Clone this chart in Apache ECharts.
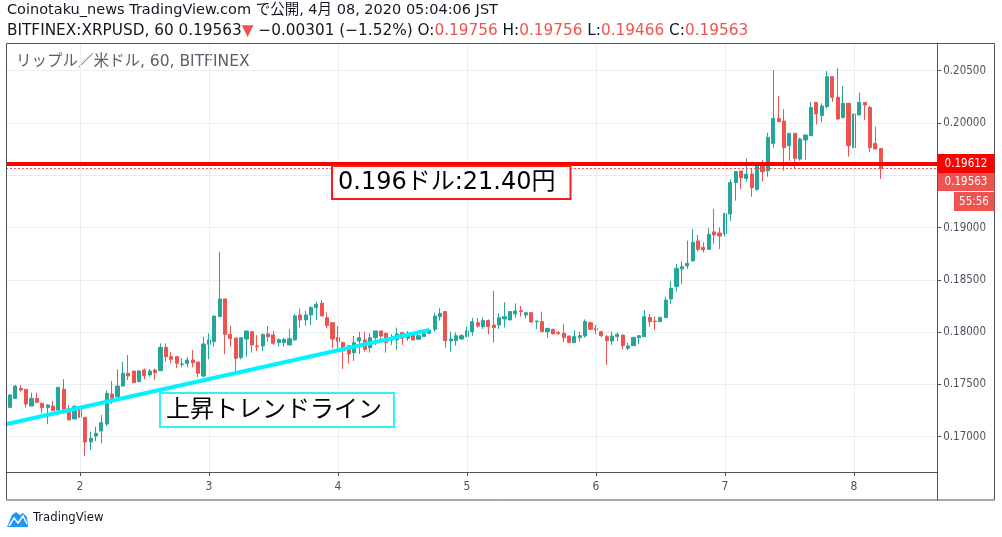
<!DOCTYPE html>
<html><head><meta charset="utf-8">
<script src="https://cdn.jsdelivr.net/npm/echarts@6/dist/echarts.min.js"></script>
<style>html,body{margin:0;padding:0;background:#fff}#c{width:1002px;height:537px}</style>
</head><body><div id="c"></div>
<script>
// Hourly candles, BITFINEX:XRPUSD, from 4/1 11:00 JST to 4/8 05:00 JST
const opens = [
.17280,.17366,.17462,.17453,.17293,.17366,.17319,.17277,.17293,.17255,
.17453,.17271,.17169,.17264,.17185,.16949,.17006,.17054,.17121,.17408,
.17382,.17484,.17606,.17628,.17526,.17637,.17590,.17637,.17631,.17854,
.17765,.17765,.17689,.17701,.17733,.17714,.17580,.17883,.17909,.18148,
.18317,.17979,.17944,.17756,.17934,.18004,.17867,.17867,.17982,.17972,
.17899,.17899,.17877,.17925,.18164,.18116,.18164,.18234,.18275,.18138,
.18090,.17950,.17902,.17870,.17803,.17915,.17925,.17851,.17947,.18011,
.17988,.17925,.17925,.17995,.17941,.17972,.17931,.17957,.17988,.18027,
.18148,.18196,.17915,.17918,.17934,.17957,.18004,.18090,.18052,.18110,
.18068,.18068,.18126,.18116,.18173,.18205,.18164,.18186,.18100,.18100,
.18004,.18027,.17995,.17988,.17963,.17899,.17947,.17963,.18090,.18036,
.18004,.17957,.17915,.17957,.17972,.17845,.17870,.17947,.17956,.18141,
.18106,.18100,.18138,.18317,.18435,.18604,.18633,.18680,.18872,.18811,
.18792,.18958,.18948,.18939,.19130,.19430,.19540,.19470,.19512,.19365,
.19598,.19544,.19805,.20044,.20019,.19783,.19901,.19655,.19837,.19878,
.20197,.20070,.20156,.20443,.20245,.20050,.20188,.19764,.20076,.20197,
.20149,.19805,.19756];
const closes = [
.17398,.17484,.17446,.17312,.17366,.17328,.17277,.17303,.17248,.17472,
.17261,.17159,.17287,.17185,.16949,.16984,.17032,.17134,.17414,.17366,
.17484,.17606,.17580,.17516,.17628,.17583,.17628,.17612,.17854,.17765,
.17740,.17701,.17695,.17733,.17708,.17606,.17886,.17925,.18154,.18317,
.17979,.17937,.17749,.17947,.18011,.17877,.17861,.17979,.17956,.17893,
.17928,.17931,.17937,.18154,.18116,.18164,.18237,.18266,.18154,.18062,
.17934,.17909,.17822,.17791,.17899,.17947,.17835,.17947,.18011,.17963,
.17899,.17931,.17982,.17941,.17988,.17925,.17966,.17988,.18020,.18154,
.18180,.17918,.17934,.17966,.17966,.18011,.18100,.18058,.18110,.18052,
.18043,.18138,.18148,.18196,.18202,.18196,.18186,.18097,.18106,.18004,
.18036,.17982,.17988,.17947,.17902,.17957,.17966,.18100,.18027,.18020,
.17966,.17918,.17963,.17979,.17870,.17867,.17950,.17966,.18148,.18100,
.18100,.18141,.18307,.18419,.18610,.18626,.18658,.18859,.18792,.18786,
.18935,.18929,.18919,.19136,.19430,.19535,.19477,.19509,.19381,.19598,
.19534,.19862,.20044,.20012,.19764,.19901,.19662,.19846,.19885,.20149,
.20086,.20162,.20443,.20245,.20038,.20188,.19783,.20086,.20197,.20172,
.19764,.19751,.19563];
const lows = [
.17271,.17360,.17430,.17277,.17293,.17319,.17223,.17121,.17248,.17213,
.17223,.17159,.17169,.17185,.16815,.16872,.16958,.16936,.17102,.17312,
.17382,.17478,.17542,.17516,.17519,.17551,.17574,.17542,.17631,.17717,
.17701,.17654,.17663,.17663,.17663,.17568,.17568,.17740,.17861,.18148,
.17788,.17861,.17622,.17740,.17765,.17803,.17819,.17819,.17909,.17877,
.17861,.17861,.17877,.17918,.18043,.18059,.18068,.18116,.18154,.18036,
.17845,.17845,.17647,.17701,.17724,.17791,.17813,.17803,.17877,.17925,
.17803,.17877,.17829,.17877,.17915,.17925,.17925,.17957,.17982,.18004,
.18110,.17851,.17813,.17870,.17925,.17950,.17966,.18043,.18030,.17979,
.17899,.18030,.18043,.18116,.18138,.18148,.18132,.18090,.18030,.18004,
.17947,.17982,.17972,.17902,.17893,.17899,.17909,.17947,.18020,.17979,
.17950,.17686,.17877,.17915,.17838,.17829,.17870,.17886,.17956,.18052,
.18020,.18100,.18138,.18269,.18387,.18460,.18604,.18680,.18770,.18760,
.18786,.18843,.18795,.18913,.19063,.19257,.19368,.19438,.19295,.19352,
.19438,.19486,.19764,.20012,.19544,.19639,.19556,.19639,.19646,.19878,
.19987,.20006,.20140,.20203,.20028,.20050,.19678,.19764,.20076,.20028,
.19719,.19751,.19466];
const highs = [
.17408,.17494,.17494,.17453,.17421,.17421,.17325,.17312,.17341,.17472,
.17551,.17303,.17303,.17287,.17185,.17048,.17095,.17207,.17440,.17532,
.17644,.17717,.17781,.17628,.17637,.17650,.17647,.17650,.17892,.17892,
.17810,.17765,.17752,.17759,.17829,.17714,.17956,.17988,.18154,.18769,
.18317,.18059,.17944,.17947,.18011,.18004,.17972,.17979,.18059,.18011,
.17941,.17947,.18030,.18173,.18227,.18202,.18243,.18291,.18307,.18189,
.18090,.18058,.17902,.17870,.17963,.18004,.18004,.17988,.18011,.18011,
.17995,.17982,.18043,.17995,.18011,.17972,.17966,.18004,.18030,.18186,
.18228,.18196,.18004,.17998,.17982,.18052,.18138,.18138,.18138,.18122,
.18393,.18180,.18285,.18202,.18275,.18250,.18186,.18186,.18106,.18196,
.18036,.18027,.18011,.18078,.17963,.18020,.18004,.18122,.18100,.18068,
.18014,.17972,.18004,.17998,.17972,.17902,.17950,.17972,.18211,.18173,
.18148,.18141,.18339,.18489,.18652,.18674,.18875,.18986,.18929,.18859,
.18993,.19178,.19002,.19136,.19461,.19541,.19540,.19662,.19566,.19614,
.19646,.19907,.20506,.20258,.20133,.19901,.19901,.19859,.19885,.20203,
.20197,.20188,.20497,.20443,.20529,.20354,.20188,.20086,.20290,.20197,
.20165,.19964,.19756];

const horizontalLevel = 0.19612;   // drawn red horizontal line
const lastPrice = 0.19563;
const countdown = '55:56';
const trendStart = ['4/1 10:00', 0.17116];  // [category, price]
const trendEnd = ['4/4 17:00', 0.18020];
const yMin = 0.16662, yMax = 0.20765;
const padBefore = 1, padAfter = 10;

const categories = [];
for (let i = 0; i < padBefore + opens.length + padAfter; i++) {
  const t = new Date(Date.UTC(2020, 3, 1, 10 + i));
  categories.push((t.getUTCMonth() + 1) + '/' + t.getUTCDate() + ' ' + String(t.getUTCHours()).padStart(2, '0') + ':00');
}
const isDayStart = (i) => categories[i].endsWith(' 00:00');
const dayStarts = categories.filter((c, i) => isDayStart(i));
const candleData = ['-'].concat(opens.map((o, i) => [o, closes[i], lows[i], highs[i]]));

const UP = '#26a69a', DOWN = '#ef5350';
const hdrFont = "'DejaVu Sans', 'Noto Sans CJK JP', sans-serif";
const txtFont = "'Liberation Sans', 'Noto Sans CJK JP', sans-serif";
const axisFont = "'DejaVu Sans Condensed', 'Liberation Sans', sans-serif";
const GRID = '#e9eef3';

const chart = echarts.init(document.getElementById('c'), null, {renderer: 'canvas'});
chart.setOption({
  animation: false,
  backgroundColor: '#ffffff',
  grid: {left: 1.925, right: 64.8, top: 43, bottom: 65},
  xAxis: {
    type: 'category', data: categories, boundaryGap: true,
    axisLine: {show: true, lineStyle: {color: '#50535e'}},
    axisTick: {show: true, alignWithLabel: true, interval: (i) => isDayStart(i), length: 4, lineStyle: {color: '#50535e'}},
    axisLabel: {interval: (i) => isDayStart(i), formatter: (v) => v.split(' ')[0].split('/')[1],
      color: '#4c525e', fontSize: 12, fontFamily: axisFont, margin: 9},
    splitLine: {show: false}
  },
  yAxis: {
    type: 'value', position: 'right', min: yMin, max: yMax, splitNumber: 8,
    minInterval: 0.005, maxInterval: 0.005,
    axisLine: {show: true, lineStyle: {color: '#50535e'}},
    axisTick: {show: true, length: 4, lineStyle: {color: '#50535e'}},
    axisLabel: {showMinLabel: false, showMaxLabel: false, formatter: (v) => v.toFixed(5),
      color: '#4c525e', fontSize: 11.5, fontFamily: axisFont, margin: 6},
    splitLine: {show: true, lineStyle: {color: GRID}}
  },
  series: [
    {
      type: 'line', data: [], z: 0, silent: true,
      markLine: {
        silent: true, symbol: 'none', label: {show: false}, animation: false,
        lineStyle: {color: GRID, width: 1, type: 'solid'},
        data: dayStarts.map((d) => ({xAxis: d}))
      }
    },
    {
      type: 'candlestick', data: candleData, barWidth: 3.6, z: 2,
      itemStyle: {color: UP, color0: DOWN, borderColor: UP, borderColor0: DOWN, borderWidth: 1},
      markLine: {
        silent: true, symbol: 'none', animation: false, precision: 5,
        label: {show: false},
        data: [
          {yAxis: lastPrice, lineStyle: {color: DOWN, width: 1, type: [2, 2]}},
          {yAxis: horizontalLevel, lineStyle: {color: '#ff0000', width: 4, type: 'solid'}},
          [{coord: trendStart, lineStyle: {color: '#00f2ff', width: 4, type: 'solid'}}, {coord: trendEnd}]
        ]
      }
    }
  ]
});

const yLevel = chart.convertToPixel({yAxisIndex: 0}, horizontalLevel);
const dark = '#131722';
chart.setOption({
  graphic: [
    {type: 'rect', silent: true, z: 99, shape: {x: 0, y: 40, width: 6.5, height: 435}, style: {fill: '#ffffff'}},
    {type: 'text', left: 7, top: 3, silent: true,
      style: {text: 'Coinotaku_news TradingView.com で公開, 4月 08, 2020 05:04:06 JST', font: '14.5px ' + hdrFont, fill: dark}},
    {type: 'text', left: 7, top: 23, silent: true,
      style: {
        text: '{d|BITFINEX:XRPUSD, 60 0.19563}{r|▼}{d| −0.00301 (−1.52%) O:}{r|0.19756}{d| H:}{r|0.19756}{d| L:}{r|0.19466}{d| C:}{r|0.19563}',
        font: '15.3px ' + hdrFont,
        rich: {d: {fill: dark, font: '15.3px ' + hdrFont}, r: {fill: DOWN, font: '15.3px ' + hdrFont}}
      }},
    {type: 'text', left: 16, top: 54, silent: true,
      style: {text: 'リップル／米ドル, 60, BITFINEX', font: '15.5px ' + hdrFont, fill: '#5d606b'}},
    // frame
    {type: 'rect', silent: true, z: 100, shape: {x: 6.5, y: 43.5, width: 988, height: 456.5},
      style: {fill: 'none', stroke: '#50535e', lineWidth: 1}},
    {type: 'line', silent: true, z: 100, shape: {x1: 937.5, y1: 472, x2: 937.5, y2: 500},
      style: {stroke: '#50535e', lineWidth: 1}},
    // price labels on right axis
    {type: 'rect', silent: true, z: 101, shape: {x: 938, y: yLevel - 9.5, width: 56.5, height: 19},
      style: {fill: '#ff0000'}},
    {type: 'text', silent: true, z: 102, x: 966, y: yLevel,
      style: {text: horizontalLevel.toFixed(5), font: '11.5px ' + axisFont, fill: '#ffffff', align: 'center', verticalAlign: 'middle'}},
    {type: 'rect', silent: true, z: 101, shape: {x: 938, y: yLevel + 9.5, width: 56.5, height: 18},
      style: {fill: DOWN}},
    {type: 'text', silent: true, z: 102, x: 966, y: yLevel + 18.5,
      style: {text: lastPrice.toFixed(5), font: '11.5px ' + axisFont, fill: '#ffffff', align: 'center', verticalAlign: 'middle'}},
    {type: 'rect', silent: true, z: 101, shape: {x: 954, y: yLevel + 28.5, width: 40.5, height: 19},
      style: {fill: DOWN}},
    {type: 'text', silent: true, z: 102, x: 974, y: yLevel + 38,
      style: {text: countdown, font: '11.5px ' + axisFont, fill: '#ffffff', align: 'center', verticalAlign: 'middle'}},
    // annotation boxes
    {type: 'rect', silent: true, z: 50, shape: {x: 332, y: 166, width: 238.5, height: 33},
      style: {fill: '#ffffff', stroke: '#ff1a1a', lineWidth: 2}},
    {type: 'text', silent: true, z: 51, x: 338, y: 183,
      style: {text: '0.196ドル:21.40円', font: '24px ' + hdrFont, fill: '#000000', verticalAlign: 'middle'}},
    {type: 'rect', silent: true, z: 50, shape: {x: 160, y: 393, width: 234, height: 34},
      style: {fill: '#ffffff', stroke: '#33f0f8', lineWidth: 2}},
    {type: 'text', silent: true, z: 51, x: 166, y: 410,
      style: {text: '上昇トレンドライン', font: '24px ' + txtFont, fill: '#000000', verticalAlign: 'middle'}},
    // logo
    {type: 'polygon', silent: true, shape: {points: [[7, 527], [12, 515], [16, 512], [20, 515], [23, 513], [27, 517], [28, 527]]},
      style: {fill: '#2196f3'}},
    {type: 'polyline', silent: true, shape: {points: [[9, 526], [14, 518], [18, 523], [23, 516], [27, 524]]},
      style: {stroke: '#ffffff', lineWidth: 1.5, fill: 'none'}},
    {type: 'text', silent: true, left: 33, top: 511,
      style: {text: 'TradingView', font: '13px ' + axisFont, fill: dark}}
  ]
});
</script></body></html>
